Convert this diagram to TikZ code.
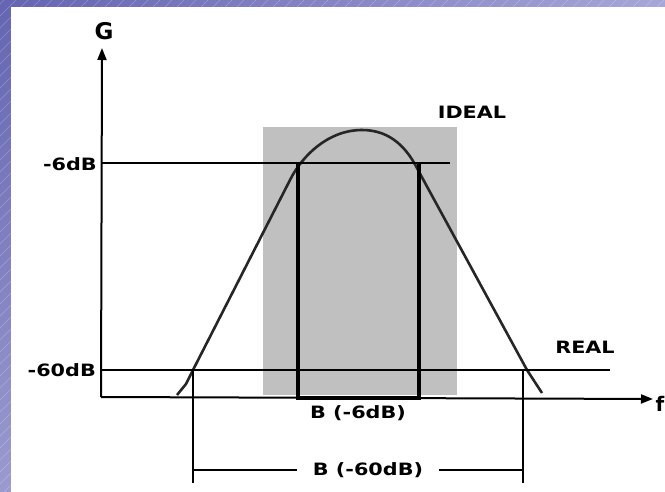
\documentclass[tikz,border=0pt]{standalone}
\usepackage{graphicx}
\usepackage{fontspec}
\setmainfont{DejaVu Sans}
\usetikzlibrary{arrows.meta,shadings}
\definecolor{boxgray}{HTML}{C0C0C0}
\definecolor{purpA}{HTML}{6464B2}
\definecolor{purpB}{HTML}{A6A6D8}
\definecolor{purpC}{HTML}{9A9ACF}
\definecolor{purpD}{HTML}{C4C4E4}
\newcommand\lbl[1]{\scalebox{1.22}[1]{\bfseries #1}}
\begin{document}
\begin{tikzpicture}[x=1pt,y=-1pt,
  thinln/.style={line width=2pt,black},
  thickln/.style={line width=3.5pt,black},
  curveln/.style={line width=2.6pt,black!85,line join=round},
  axisln/.style={line width=2pt,black,-{Triangle[width=9pt,length=12pt]}},
  txt/.style={font=\fontsize{17}{18}\selectfont,inner sep=0pt}]
\useasboundingbox (0,0) rectangle (665,492);
% background frame
\shade[upper left=purpA,upper right=purpB,lower left=purpC,lower right=purpD] (0,0) rectangle (665,492);
\begin{scope}
  \clip (0,0) rectangle (665,7) (0,0) rectangle (11,492);
  \foreach \i in {-500,-488,...,680} \draw[white,opacity=0.25,line width=0.6pt] (\i,492) -- ++(492,-492);
\end{scope}
\fill[white] (11,7) rectangle (665,492);
% gray ideal area
\fill[boxgray] (263,127) rectangle (457,395);
% coordinates
\coordinate (O) at (101,397);
\coordinate (Ytop) at (102,48);
\coordinate (Xend) at (653,399);
\coordinate (s6a) at (101,163);
\coordinate (s6b) at (450,163);
\coordinate (s60a) at (101,370);
\coordinate (s60b) at (610,370);
\coordinate (bxa) at (298,163);
\coordinate (bxb) at (298,398);
\coordinate (bxc) at (419,398);
\coordinate (bxd) at (419,163);
\coordinate (dla) at (193,370);
\coordinate (dlb) at (193,483);
\coordinate (dra) at (523,370);
\coordinate (drb) at (523,483);
\coordinate (dlm) at (193,470);
\coordinate (drm) at (523,470);
% curve
\draw[curveln] (177,395) -- (186,384) -- (193,370) -- (290,180)
  .. controls (302,156) and (328,130) .. (362,130)
  .. controls (392,130) and (408,150) .. (418,170)
  -- (527,370) -- (542,393);
% level lines
\draw[thinln] (s6a) -- (s6b);
\draw[thinln] (s60a) -- (s60b);
% box
\draw[thickln,line join=miter] (bxa) -- (bxb) -- (bxc) -- (bxd);
% axes
\draw[axisln] (O) -- (Ytop);
\draw[axisln] (O) -- (Xend);
% dimension
\draw[line width=2.5pt] (dla) -- (dlb);
\draw[line width=2.5pt] (dra) -- (drb);
\node[txt,inner xsep=16pt] (b60) at (368,470) {\lbl{B (-60dB)}};
\draw[line width=1.6pt] (dlm) -- (b60.west);
\draw[line width=1.6pt] (b60.east) -- (drm);
% labels
\node[txt,font=\fontsize{23}{24}\selectfont\bfseries] (G) at (104,31) {G};
\node[txt,anchor=east] (m6) at (97,164) {\lbl{-6dB}};
\node[txt,anchor=east] (m60) at (96,370) {\lbl{-60dB}};
\node[txt] (ideal) at (472,112) {\lbl{IDEAL}};
\node[txt] (real) at (585,347) {\lbl{REAL}};
\node[txt] (b6) at (358,413) {\lbl{B (-6dB)}};
\node[txt,font=\fontsize{20}{22}\selectfont\bfseries,anchor=west] (f) at (655.5,404) {f};
\end{tikzpicture}
\end{document}
